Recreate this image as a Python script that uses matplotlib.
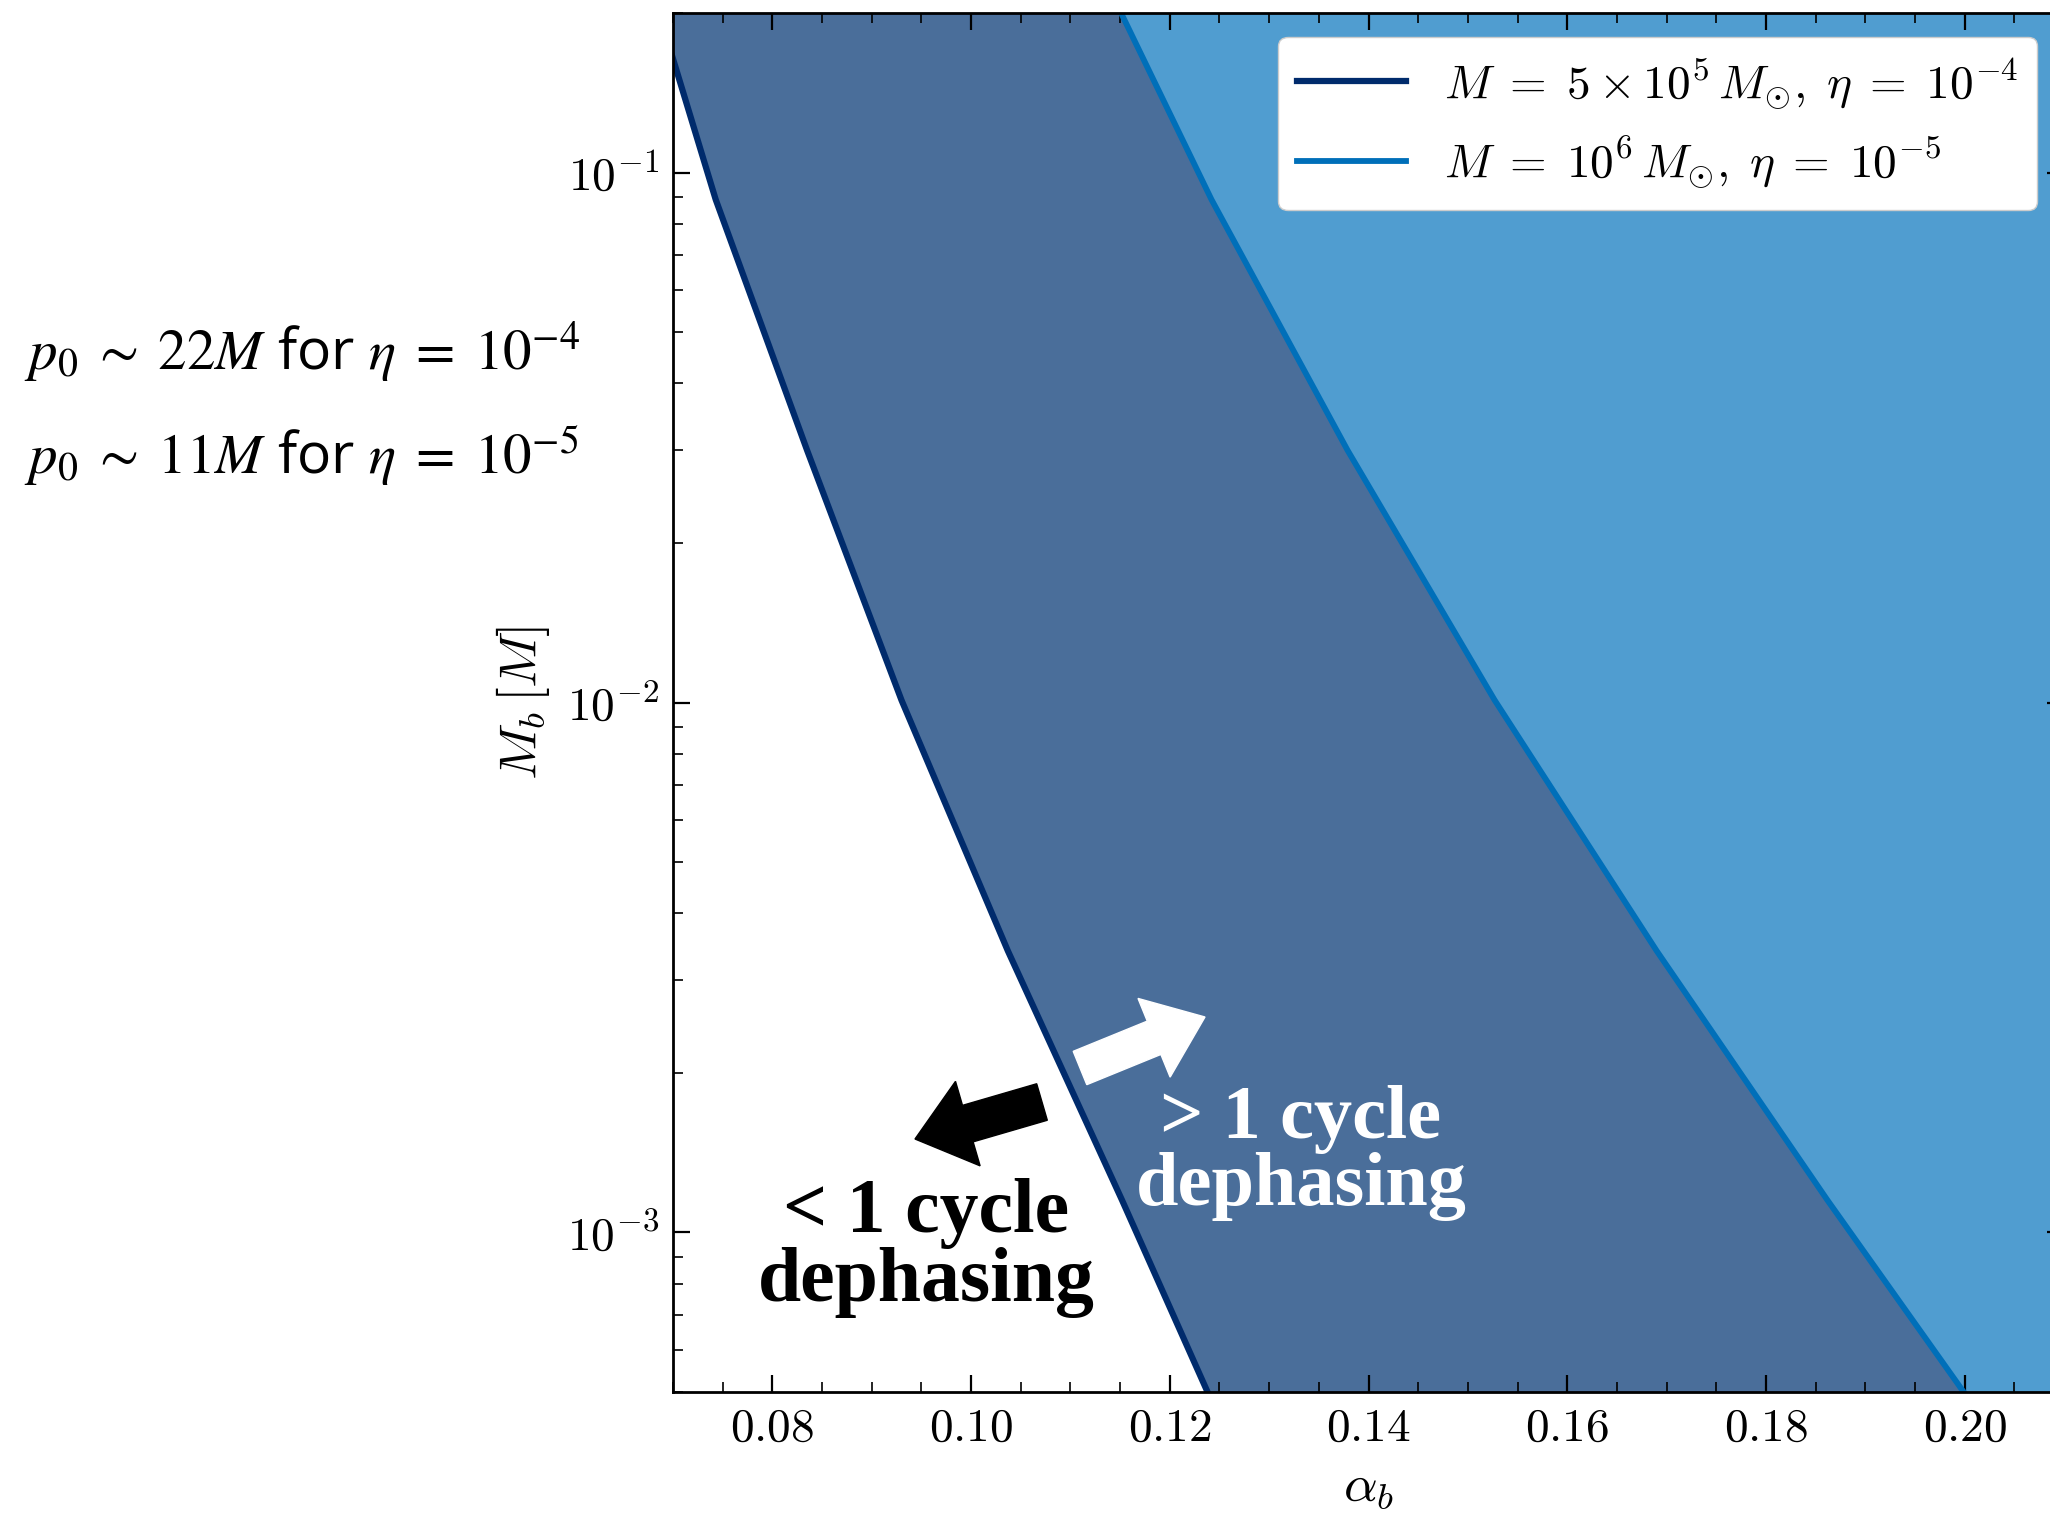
import matplotlib.pyplot as plt
from matplotlib.patches import FancyArrow

plt.rcParams['mathtext.fontset'] = 'cm'

# boundary of one-cycle dephasing: bath mass vs power-law index
mb = [0.2, 0.0889, 0.0299, 0.0101, 0.0034, 0.00115, 0.0005]
alpha_eta4 = [0.0686, 0.0743, 0.0835, 0.0930, 0.1037, 0.1152, 0.1238]
alpha_eta5 = [0.1151, 0.1242, 0.1379, 0.1527, 0.1690, 0.1862, 0.1999]

labels = [r'$M\;=\;5\times 10^5\,M_{\odot},\;\eta\;=\;10^{-4}$',
          r'$M\;=\;10^6\,M_{\odot},\;\eta\;=\;10^{-5}$']
xticks = [0.08, 0.10, 0.12, 0.14, 0.16, 0.18, 0.20]
yticks = [1e-3, 1e-2, 1e-1]
ylabels = [r'$10^{-3}$', r'$10^{-2}$', r'$10^{-1}$']

navy = '#002b6c'
blue = '#006fb9'
band = '#4a6e9a'
light = '#509dd0'

W, H = 2050, 1513
fig = plt.figure(figsize=(W / 100, H / 100), dpi=100)
ax = fig.add_axes([673 / W, 1 - 1392 / H, (2064 - 673) / W, (1392 - 13) / H])
ax.set_yscale('log')

ax.fill_betweenx(mb, alpha_eta4, alpha_eta5, color=band, lw=0)
ax.fill_betweenx(mb, alpha_eta5, 0.25, color=light, lw=0)
ax.plot(alpha_eta4, mb, color=navy, lw=4.5, label=labels[0])
ax.plot(alpha_eta5, mb, color=blue, lw=4.2, label=labels[1])

ax.set_xlim(0.07, 0.21)
ax.set_ylim(5e-4, 0.2)
ax.set_xticks(xticks, labels=[f'${t:.2f}$' for t in xticks])
ax.set_xticks([0.07 + 0.005 * i for i in range(29)], minor=True)
ax.set_yticks(yticks, labels=ylabels)

ax.tick_params(which='both', direction='in', top=True, right=True, labelsize=34, pad=10)
ax.tick_params(which='major', length=12, width=1.6)
ax.tick_params(which='minor', length=7, width=1.2)
for s in ax.spines.values():
    s.set_linewidth(2)

ax.set_xlabel(r'$\alpha_b$', fontsize=38)
ax.set_ylabel(r'$M_b\,[M]$', fontsize=38)
ax.xaxis.set_label_coords(0.5, -0.049)
ax.yaxis.set_label_coords(-0.087, 0.5)

ax.legend(loc='upper right', bbox_to_anchor=(2037 / W, 1 - 37 / H),
          bbox_transform=fig.transFigure, borderaxespad=0, fontsize=34,
          handlelength=2.3, framealpha=1, edgecolor='#cccccc', fancybox=True)

# notes on the initial separation
fig.text(24 / W, 1 - 369 / H, r'$p_0 \;\sim\; 22M$ for $\eta \;=\; 10^{-4}$', fontsize=41,
         family='Open Sans', math_fontfamily='stix', va='baseline')
fig.text(24 / W, 1 - 473 / H, r'$p_0 \;\sim\; 11M$ for $\eta \;=\; 10^{-5}$', fontsize=41,
         family='Open Sans', math_fontfamily='stix', va='baseline')

fig.text(926 / W, 1 - 1248 / H, '< 1 cycle\ndephasing', ha='center', va='center',
         fontsize=56, family='Liberation Serif', weight='bold', linespacing=0.95)
fig.text(1301 / W, 1 - 1153 / H, '> 1 cycle\ndephasing', ha='center', va='center',
         fontsize=55, family='Liberation Serif', weight='bold', linespacing=0.95,
         color='white')

fig.add_artist(FancyArrow(10.42, 4.11, -1.27, -0.37, width=0.38, head_width=0.88,
                          head_length=0.55, length_includes_head=True,
                          transform=fig.dpi_scale_trans, fc='black', ec='black'))
fig.add_artist(FancyArrow(10.80, 4.45, 1.25, 0.51, width=0.36, head_width=0.85,
                          head_length=0.55, length_includes_head=True,
                          transform=fig.dpi_scale_trans, fc='white', ec='white'))

fig.savefig('out.png', dpi=100)
